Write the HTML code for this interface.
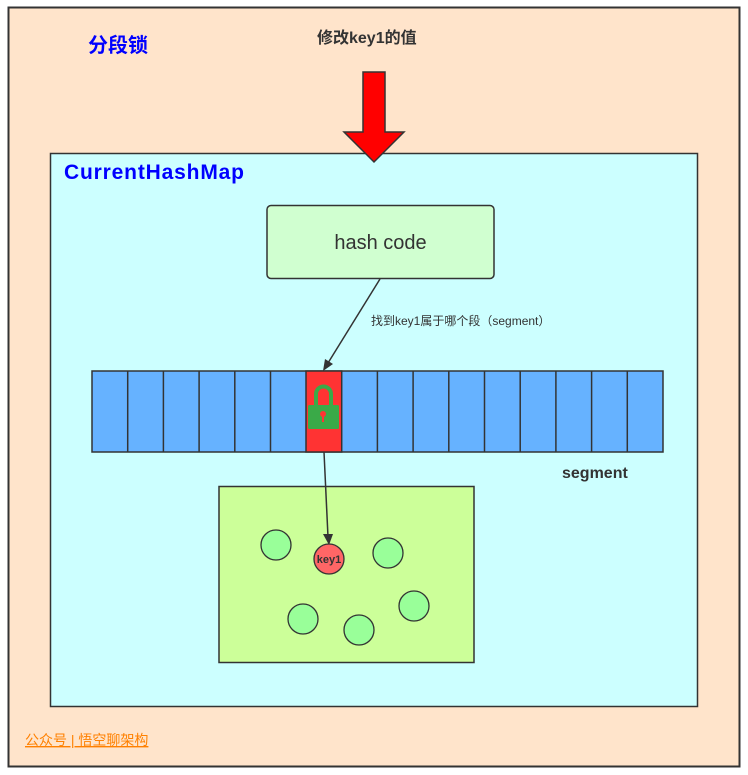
<!DOCTYPE html>
<html><head><meta charset="utf-8"><style>
html,body{margin:0;padding:0;background:#fff;width:748px;height:775px;overflow:hidden}
svg text{font-family:"Liberation Sans","Noto Sans CJK SC",sans-serif}
</style></head><body>
<svg width="748" height="775" xmlns="http://www.w3.org/2000/svg">
<rect x="8.5" y="7.5" width="731" height="759" fill="#FFE4CB" stroke="#333" stroke-width="2"/>
<text x="88" y="52" font-size="20" font-weight="bold" fill="#0000FF">分段锁</text>
<text x="317" y="43" font-size="16" font-weight="bold" fill="#333">修改key1的值</text>
<rect x="50.5" y="153.5" width="647" height="553" fill="#CCFFFF" stroke="#333" stroke-width="1.5"/>
<text x="64" y="179" font-size="21" font-weight="bold" fill="#0000FF" textLength="180">CurrentHashMap</text>
<polygon points="363,72 385,72 385,132 404,132 374,162 344,132 363,132" fill="#FF0000" stroke="#333" stroke-width="1.5"/>
<rect x="267" y="205.5" width="227" height="73" rx="4" fill="#D0FFD0" stroke="#333" stroke-width="1.5"/>
<text x="380.5" y="249" font-size="20" fill="#333" text-anchor="middle">hash code</text>
<line x1="380" y1="279" x2="328" y2="363" stroke="#333" stroke-width="1.5"/>
<polygon points="323,371 325,359 333,364" fill="#333"/>
<text x="371" y="325" font-size="12" fill="#333">找到key1属于哪个段（segment）</text>
<g stroke="#333" stroke-width="1.5" fill="#66B2FF">
<rect x="92" y="371" width="571" height="81"/>
<rect x="306" y="371" width="35.7" height="81" fill="#FF3333"/>
<line x1="127.7" y1="371" x2="127.7" y2="452"/><line x1="163.4" y1="371" x2="163.4" y2="452"/><line x1="199.1" y1="371" x2="199.1" y2="452"/><line x1="234.8" y1="371" x2="234.8" y2="452"/><line x1="270.5" y1="371" x2="270.5" y2="452"/><line x1="377.4" y1="371" x2="377.4" y2="452"/><line x1="413.1" y1="371" x2="413.1" y2="452"/><line x1="448.8" y1="371" x2="448.8" y2="452"/><line x1="484.5" y1="371" x2="484.5" y2="452"/><line x1="520.2" y1="371" x2="520.2" y2="452"/><line x1="555.9" y1="371" x2="555.9" y2="452"/><line x1="591.6" y1="371" x2="591.6" y2="452"/><line x1="627.3" y1="371" x2="627.3" y2="452"/>
</g>
<path d="M316,406 v-12 a7.5,7.5 0 0 1 15,0 v12" fill="none" stroke="#3AAA48" stroke-width="4"/>
<rect x="308" y="405" width="31" height="24" rx="1.5" fill="#3AAA48"/>
<circle cx="323" cy="414" r="3" fill="#FF3333"/><rect x="322" y="414" width="2" height="8" fill="#FF3333"/>
<text x="562" y="478" font-size="16" font-weight="bold" fill="#333">segment</text>
<rect x="219" y="486.5" width="255" height="176" fill="#CCFF99" stroke="#333" stroke-width="1.5"/>
<line x1="324" y1="452" x2="328" y2="537" stroke="#333" stroke-width="1.5"/>
<polygon points="329,545 323,534 333,534" fill="#333"/>
<g stroke="#333" stroke-width="1.3" fill="#99FF99">
<circle cx="276" cy="545" r="15"/><circle cx="388" cy="553" r="15"/><circle cx="414" cy="606" r="15"/><circle cx="303" cy="619" r="15"/><circle cx="359" cy="630" r="15"/>
<circle cx="329" cy="559" r="15" fill="#FF6666"/>
</g>
<text x="329" y="563" font-size="11" font-weight="bold" fill="#333" text-anchor="middle">key1</text>
<text x="25" y="745" font-size="14" fill="#FF8000" text-decoration="underline">公众号 | 悟空聊架构</text>
</svg>
</body></html>
